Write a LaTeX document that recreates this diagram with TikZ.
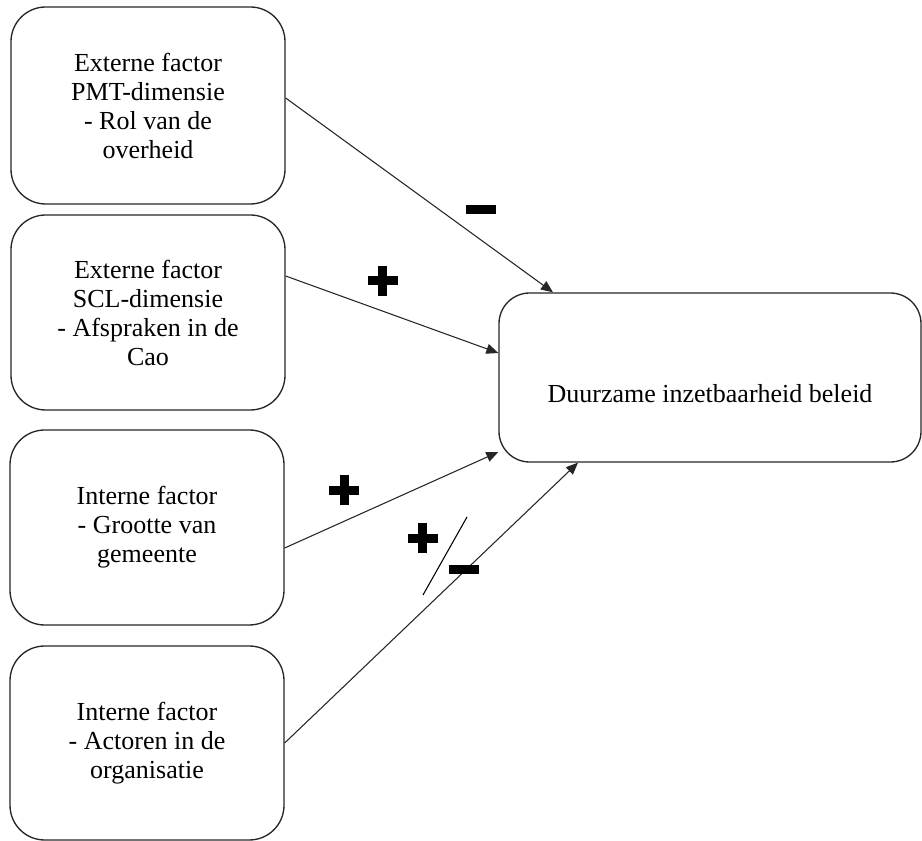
\documentclass[tikz,border=0pt]{standalone}
\usepackage{fontspec}
\setmainfont{Liberation Serif}
\usetikzlibrary{arrows.meta}
\begin{document}
\begin{tikzpicture}[x=0.75pt,y=-0.75pt,
  factor/.style={draw=black!85, line width=1pt, rounded corners=26pt,
    minimum width=274*0.75pt, minimum height=195*0.75pt, inner sep=0pt,
    align=center, font=\fontsize{19.5}{21.75}\selectfont},
  goal/.style={draw=black!85, line width=1pt, rounded corners=23pt,
    minimum width=422*0.75pt, minimum height=169*0.75pt, inner sep=0pt,
    text height=50.8pt, text depth=14pt,
    font=\fontsize{19.5}{21.75}\selectfont},
  conn/.style={draw=black!85, line width=0.8pt, -{Triangle[length=9pt,width=7.5pt]}},
  plussign/.pic={\fill (-15,-4.5) rectangle (15,4.5); \fill (-4.5,-15) rectangle (4.5,15);},
  minussign/.pic={\fill (-15,-4.5) rectangle (15,4.5);}
]
\useasboundingbox (0,0) rectangle (922,841);
\node[factor, minimum height=197*0.75pt] (b1) at (148,105.5) {Externe factor\\PMT-dimensie\\- Rol van de\\overheid};
\node[factor] (b2) at (148,312.5) {Externe factor\\SCL-dimensie\\- Afspraken in de\\Cao};
\node[factor] (b3) at (147,527.5) {Interne factor\\- Grootte van\\gemeente};
\node[factor, minimum height=194*0.75pt] (b4) at (147,743) {Interne factor\\- Actoren in de\\organisatie};
\node[goal] (g) at (710,377.5) {Duurzame inzetbaarheid beleid};

\draw[conn] (b1.east |- 0,98) -- (g.north -| 553,0);
\draw[conn] (b2.east |- 0,276) -- (g.west |- 0,353);
\draw[conn] (b3.east |- 0,548) -- (g.west |- 0,452);
\draw[conn] (b4.east |- 0,743) -- (g.south -| 578,0);

\pic at (481,210) {minussign};
\pic at (382.5,281) {plussign};
\pic at (344,490.5) {plussign};
\pic at (422.5,538.5) {plussign};
\draw[line width=0.8pt] (423,595) -- (467,517);
\pic at (463.5,570) {minussign};
\end{tikzpicture}
\end{document}
